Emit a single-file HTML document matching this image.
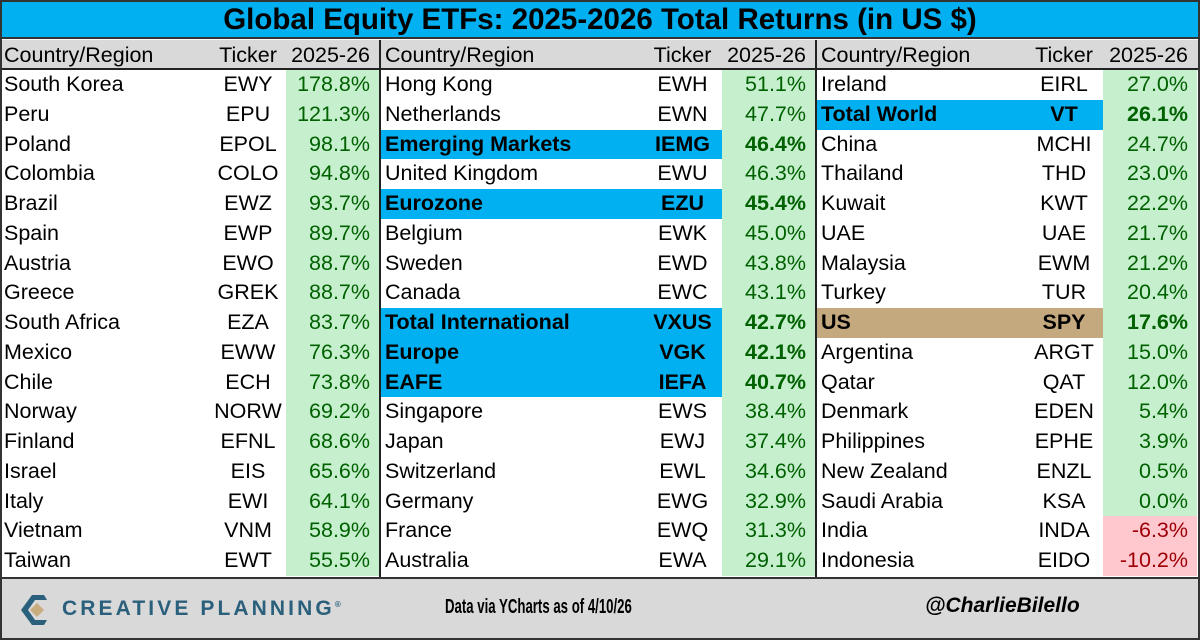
<!DOCTYPE html>
<html><head><meta charset="utf-8"><style>
*{margin:0;padding:0;box-sizing:border-box}
body{width:1200px;height:640px;background:#fff;font-family:"Liberation Sans",Arial,sans-serif;position:relative;overflow:hidden;color:#000}
#frame{position:absolute;left:0;top:0;width:1200px;height:640px;border:2px solid #333}
#title{position:absolute;left:0;top:0;width:1200px;height:39px;background:#00b0f0;border-bottom:2px solid #333;font-weight:bold;font-size:29.5px;text-align:center;line-height:40px}
.panel{position:absolute;top:40px;height:537px;border-right:2px solid #222}
.hdr{height:30px;background:#d9d9d9;border-bottom:2px solid #222;display:flex;font-size:21.5px;line-height:30px}
.r{height:29.75px;display:flex;font-size:21.5px;line-height:29.75px}
.c{padding-left:4px;white-space:nowrap}
.t{text-align:center;white-space:nowrap}
.v{text-align:right;padding-right:9px;background:#c6efce;color:#006100;white-space:nowrap}
.hdr .v{background:#d9d9d9;color:#000}
.neg .v{background:#ffc7ce;color:#9c0006}
.b .c,.b .t{background:#00b0f0;font-weight:bold}
.b .v{font-weight:bold}
.us .c,.us .t{background:#c4a97f;font-weight:bold}
.us .v{font-weight:bold}
#p1{left:0;width:381px}
#p1 .c{width:210px}#p1 .t{width:76px}#p1 .v{width:93px}
#p2{left:381px;width:436px}
#p2 .c{width:262px}#p2 .t{width:79px}#p2 .v{width:93px}
#p3{left:817px;width:383px;border-right:none}
#p3 .c{width:208px}#p3 .t{width:78px}#p3 .v{width:94px}
#foot{position:absolute;left:0;top:577px;width:1200px;height:63px;background:#d9d9d9;border-top:2px solid #333}
#cp{position:absolute;left:62px;top:18px;font-size:21px;font-weight:bold;letter-spacing:3.1px;color:#2b607c}
#data{position:absolute;left:445px;top:17px;font-size:20px;font-weight:bold;transform:scaleX(0.66);transform-origin:0 0;white-space:nowrap}
#ch{position:absolute;left:925px;top:15px;font-size:21px;font-weight:bold;font-style:italic}
</style></head><body>
<div id="title">Global Equity ETFs: 2025-2026 Total Returns (in US $)</div>
<div class="panel" id="p1">
<div class="hdr"><div class="c">Country/Region</div><div class="t">Ticker</div><div class="v">2025-26</div></div>
<div class="r"><div class="c">South Korea</div><div class="t">EWY</div><div class="v">178.8%</div></div>
<div class="r"><div class="c">Peru</div><div class="t">EPU</div><div class="v">121.3%</div></div>
<div class="r"><div class="c">Poland</div><div class="t">EPOL</div><div class="v">98.1%</div></div>
<div class="r"><div class="c">Colombia</div><div class="t">COLO</div><div class="v">94.8%</div></div>
<div class="r"><div class="c">Brazil</div><div class="t">EWZ</div><div class="v">93.7%</div></div>
<div class="r"><div class="c">Spain</div><div class="t">EWP</div><div class="v">89.7%</div></div>
<div class="r"><div class="c">Austria</div><div class="t">EWO</div><div class="v">88.7%</div></div>
<div class="r"><div class="c">Greece</div><div class="t">GREK</div><div class="v">88.7%</div></div>
<div class="r"><div class="c">South Africa</div><div class="t">EZA</div><div class="v">83.7%</div></div>
<div class="r"><div class="c">Mexico</div><div class="t">EWW</div><div class="v">76.3%</div></div>
<div class="r"><div class="c">Chile</div><div class="t">ECH</div><div class="v">73.8%</div></div>
<div class="r"><div class="c">Norway</div><div class="t">NORW</div><div class="v">69.2%</div></div>
<div class="r"><div class="c">Finland</div><div class="t">EFNL</div><div class="v">68.6%</div></div>
<div class="r"><div class="c">Israel</div><div class="t">EIS</div><div class="v">65.6%</div></div>
<div class="r"><div class="c">Italy</div><div class="t">EWI</div><div class="v">64.1%</div></div>
<div class="r"><div class="c">Vietnam</div><div class="t">VNM</div><div class="v">58.9%</div></div>
<div class="r"><div class="c">Taiwan</div><div class="t">EWT</div><div class="v">55.5%</div></div>
</div>
<div class="panel" id="p2">
<div class="hdr"><div class="c">Country/Region</div><div class="t">Ticker</div><div class="v">2025-26</div></div>
<div class="r"><div class="c">Hong Kong</div><div class="t">EWH</div><div class="v">51.1%</div></div>
<div class="r"><div class="c">Netherlands</div><div class="t">EWN</div><div class="v">47.7%</div></div>
<div class="r b"><div class="c">Emerging Markets</div><div class="t">IEMG</div><div class="v">46.4%</div></div>
<div class="r"><div class="c">United Kingdom</div><div class="t">EWU</div><div class="v">46.3%</div></div>
<div class="r b"><div class="c">Eurozone</div><div class="t">EZU</div><div class="v">45.4%</div></div>
<div class="r"><div class="c">Belgium</div><div class="t">EWK</div><div class="v">45.0%</div></div>
<div class="r"><div class="c">Sweden</div><div class="t">EWD</div><div class="v">43.8%</div></div>
<div class="r"><div class="c">Canada</div><div class="t">EWC</div><div class="v">43.1%</div></div>
<div class="r b"><div class="c">Total International</div><div class="t">VXUS</div><div class="v">42.7%</div></div>
<div class="r b"><div class="c">Europe</div><div class="t">VGK</div><div class="v">42.1%</div></div>
<div class="r b"><div class="c">EAFE</div><div class="t">IEFA</div><div class="v">40.7%</div></div>
<div class="r"><div class="c">Singapore</div><div class="t">EWS</div><div class="v">38.4%</div></div>
<div class="r"><div class="c">Japan</div><div class="t">EWJ</div><div class="v">37.4%</div></div>
<div class="r"><div class="c">Switzerland</div><div class="t">EWL</div><div class="v">34.6%</div></div>
<div class="r"><div class="c">Germany</div><div class="t">EWG</div><div class="v">32.9%</div></div>
<div class="r"><div class="c">France</div><div class="t">EWQ</div><div class="v">31.3%</div></div>
<div class="r"><div class="c">Australia</div><div class="t">EWA</div><div class="v">29.1%</div></div>
</div>
<div class="panel" id="p3">
<div class="hdr"><div class="c">Country/Region</div><div class="t">Ticker</div><div class="v">2025-26</div></div>
<div class="r"><div class="c">Ireland</div><div class="t">EIRL</div><div class="v">27.0%</div></div>
<div class="r b"><div class="c">Total World</div><div class="t">VT</div><div class="v">26.1%</div></div>
<div class="r"><div class="c">China</div><div class="t">MCHI</div><div class="v">24.7%</div></div>
<div class="r"><div class="c">Thailand</div><div class="t">THD</div><div class="v">23.0%</div></div>
<div class="r"><div class="c">Kuwait</div><div class="t">KWT</div><div class="v">22.2%</div></div>
<div class="r"><div class="c">UAE</div><div class="t">UAE</div><div class="v">21.7%</div></div>
<div class="r"><div class="c">Malaysia</div><div class="t">EWM</div><div class="v">21.2%</div></div>
<div class="r"><div class="c">Turkey</div><div class="t">TUR</div><div class="v">20.4%</div></div>
<div class="r us"><div class="c">US</div><div class="t">SPY</div><div class="v">17.6%</div></div>
<div class="r"><div class="c">Argentina</div><div class="t">ARGT</div><div class="v">15.0%</div></div>
<div class="r"><div class="c">Qatar</div><div class="t">QAT</div><div class="v">12.0%</div></div>
<div class="r"><div class="c">Denmark</div><div class="t">EDEN</div><div class="v">5.4%</div></div>
<div class="r"><div class="c">Philippines</div><div class="t">EPHE</div><div class="v">3.9%</div></div>
<div class="r"><div class="c">New Zealand</div><div class="t">ENZL</div><div class="v">0.5%</div></div>
<div class="r"><div class="c">Saudi Arabia</div><div class="t">KSA</div><div class="v">0.0%</div></div>
<div class="r neg"><div class="c">India</div><div class="t">INDA</div><div class="v">-6.3%</div></div>
<div class="r neg"><div class="c">Indonesia</div><div class="t">EIDO</div><div class="v">-10.2%</div></div>
</div>
<div id="foot">
<svg style="position:absolute;left:18px;top:12px" width="32" height="38" viewBox="0 0 32 38">
<path d="M26 4 L14 4 L3 19 L14 34 L26 34 L29 29 L17 29 L10 19 L17 9 L29 9 Z" fill="#2b607c"/>
<path d="M19 12 L26 19 L19 26 L12 19 Z" fill="#c9ad7f"/>
</svg>
<div id="cp">CREATIVE PLANNING<sup style="font-size:8px">®</sup></div>
<div id="data">Data via YCharts as of 4/10/26</div>
<div id="ch">@CharlieBilello</div>
</div>
<div id="frame"></div>
</body></html>
